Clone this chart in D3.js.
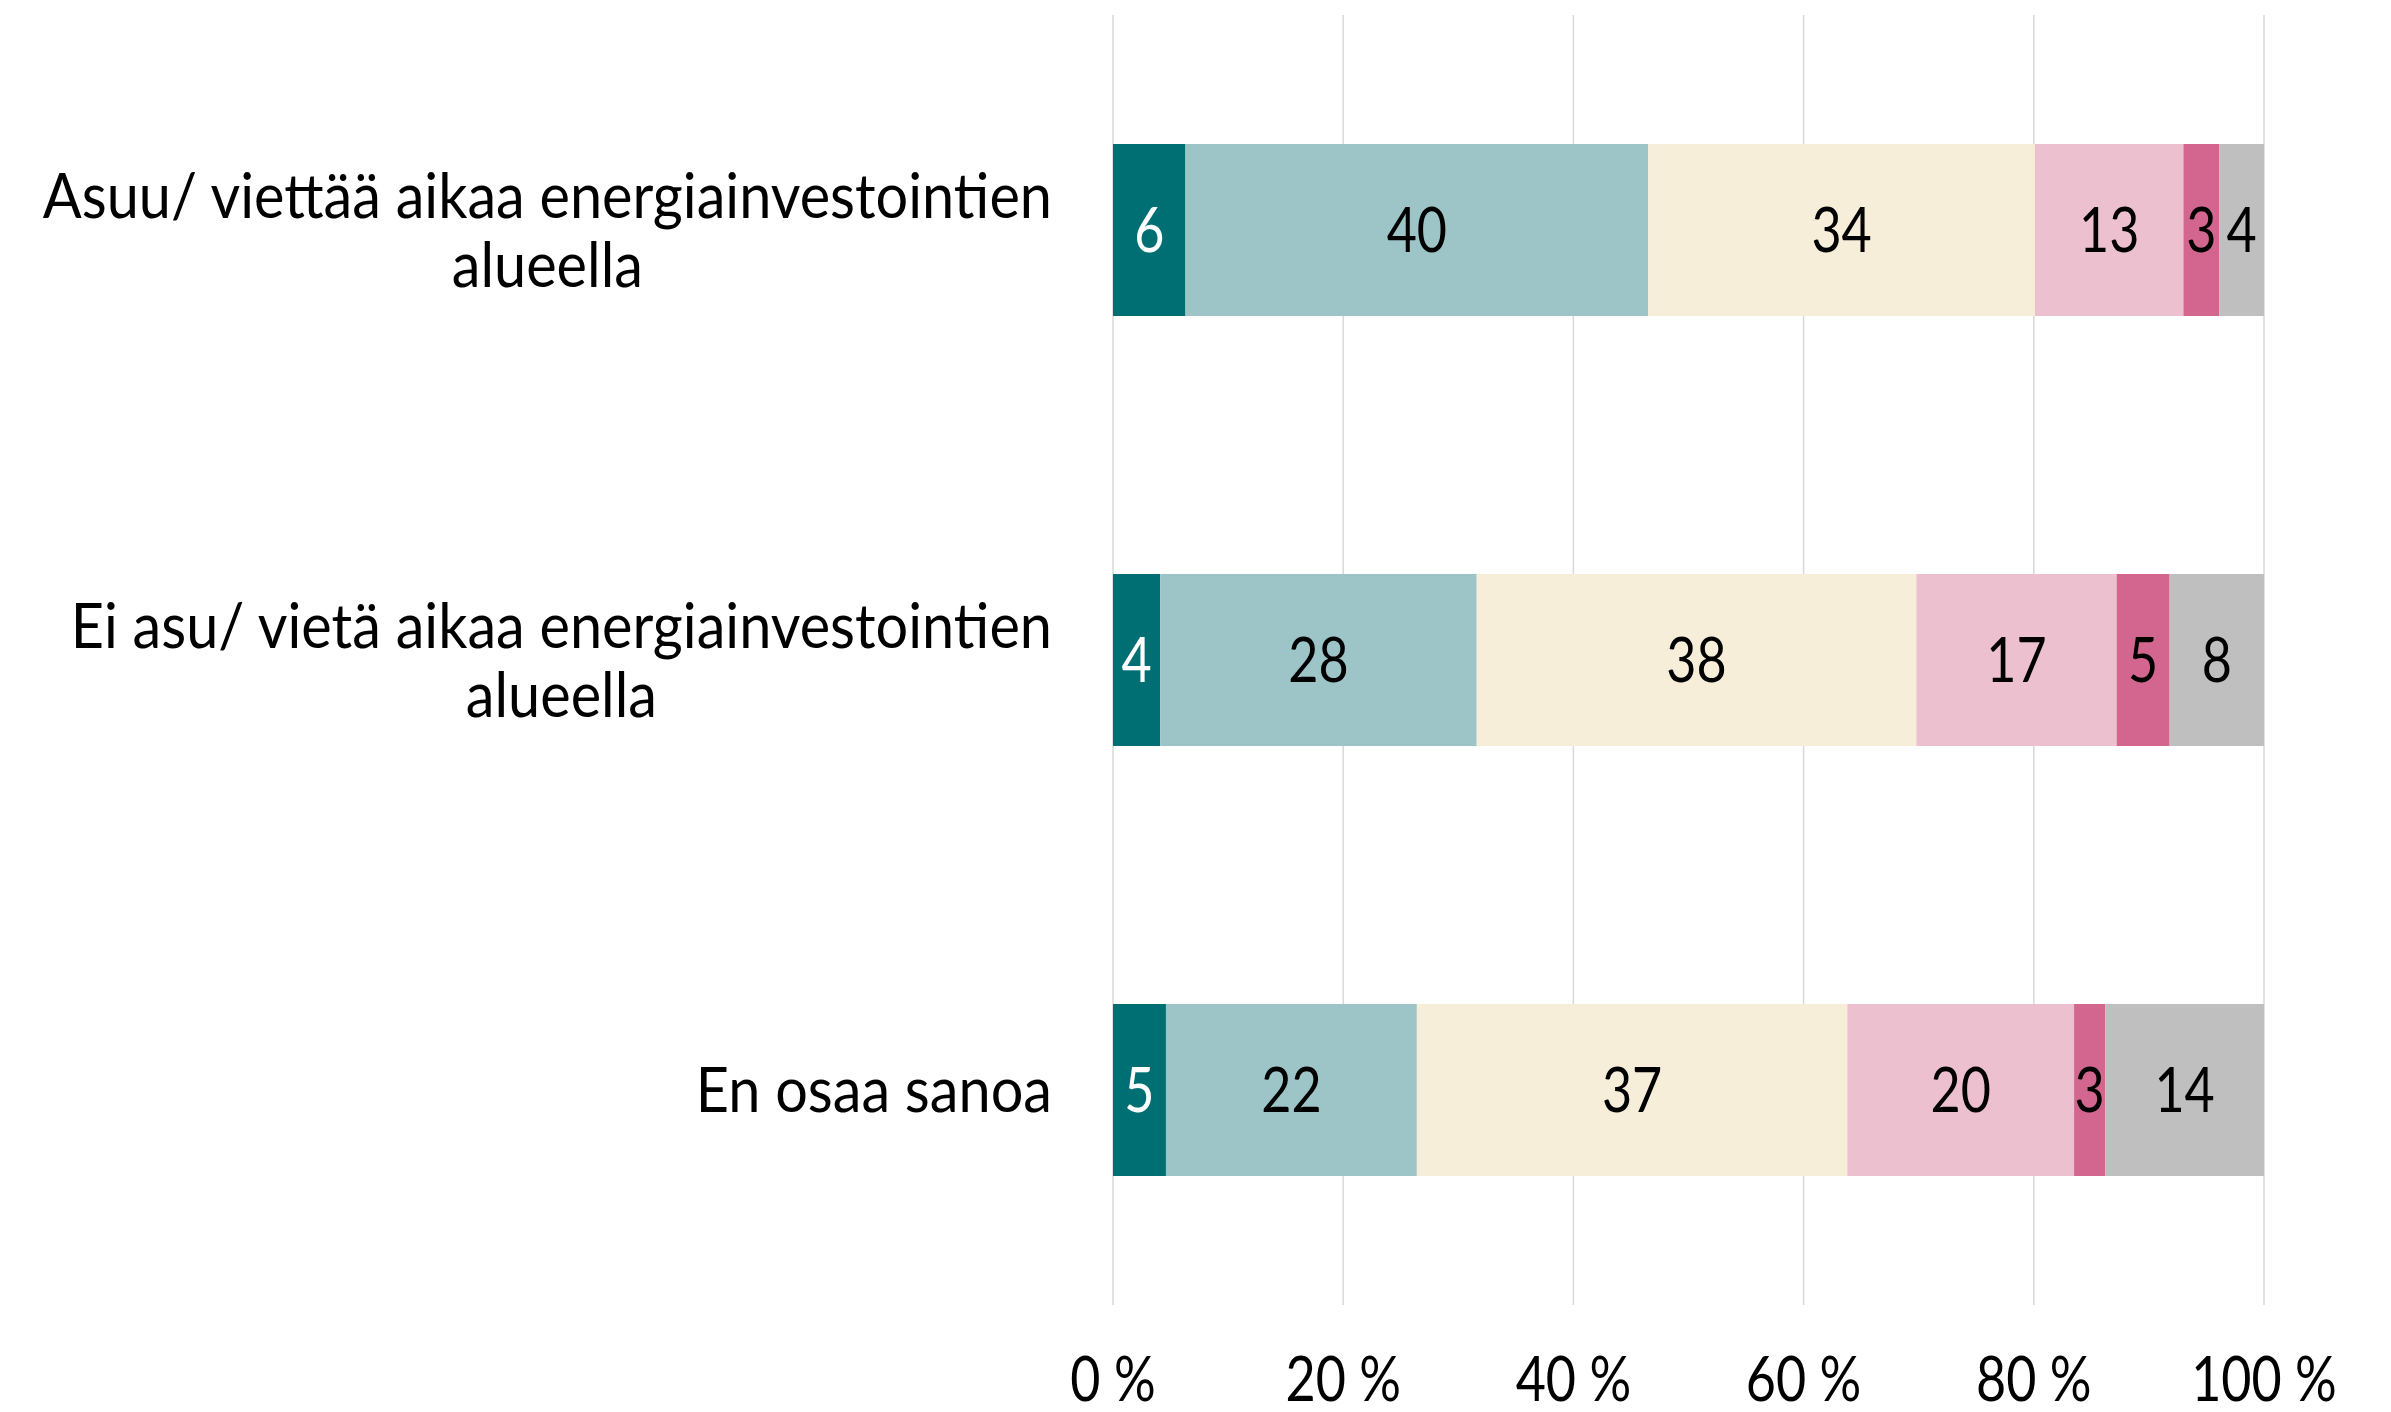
<!DOCTYPE html>
<html>
<head>
<meta charset="utf-8">
<script src="https://cdn.jsdelivr.net/npm/d3@7"></script>
<style>
  html, body { margin: 0; padding: 0; background: #fff; }
  text { font-family: Lato, "Noto Sans", sans-serif; }
</style>
</head>
<body>
<div id="chart"></div>
<script>
// Category labels, already split into lines as in the picture.
const categories = ["c1", "c2", "c3"];
const categoryLines = [
  ["Asuu/ viettää aikaa energiainvestointien", "alueella"],
  ["Ei asu/ vietä aikaa energiainvestointien", "alueella"],
  ["En osaa sanoa"]
];

// Shares (%) for each answer group, one array per series, in category order.
const series1 = [6.3, 4.1, 4.6];
const series2 = [40.2, 27.5, 21.8];
const series3 = [33.6, 38.2, 37.4];
const series4 = [12.9, 17.4, 19.7];
const series5 = [3.1, 4.6, 2.7];
const series6 = [3.9, 8.2, 13.8];
const seriesValues = [series1, series2, series3, series4, series5, series6];

const seriesColors = ["#006f73", "#9dc5c7", "#f6eed8", "#edc0d0", "#d2668f", "#bfbfbf"];
const labelColors = ["#ffffff", "#000", "#000", "#000", "#000", "#000"];

const tickValues = [0, 20, 40, 60, 80, 100];

const width = 2391, height = 1412;
const fontSize = 62;
const squeeze = 0.84;     // numbers: narrow digits of the original face
const catSqueeze = 0.93;  // category text

const svg = d3.select("#chart").append("svg")
  .attr("width", width)
  .attr("height", height);

const x = d3.scaleLinear().domain([0, 100]).range([1113, 2264]);
const y = d3.scaleBand().domain(categories).range([15, 1305])
  .paddingInner(0.6).paddingOuter(0.3);

// Vertical gridlines.
svg.append("g")
  .selectAll("line")
  .data(tickValues)
  .join("line")
  .attr("x1", d => x(d)).attr("x2", d => x(d))
  .attr("y1", 15).attr("y2", 1305)
  .attr("stroke", "#d9d9d9")
  .attr("stroke-width", 1.5);

// Stack the series.
const rows = categories.map((c, i) => {
  const r = { cat: c };
  seriesValues.forEach((s, j) => { r["s" + j] = s[i]; });
  return r;
});
const keys = seriesValues.map((s, j) => "s" + j);
const stacked = d3.stack().keys(keys)(rows);

// Helper for squeezed text.
function squeezedText(sel, tx, ty, str, anchor, fill, sx) {
  return sel.append("text")
    .attr("transform", `translate(${tx},${ty}) scale(${sx},1)`)
    .attr("text-anchor", anchor)
    .attr("fill", fill)
    .style("font-size", fontSize + "px")
    .text(str);
}

const bars = svg.append("g");
stacked.forEach((layer, j) => {
  layer.forEach((d, i) => {
    bars.append("rect")
      .attr("x", x(d[0]))
      .attr("y", y(categories[i]))
      .attr("width", x(d[1]) - x(d[0]))
      .attr("height", y.bandwidth())
      .attr("fill", seriesColors[j]);
  });
});

// Data labels.
const labels = svg.append("g");
stacked.forEach((layer, j) => {
  layer.forEach((d, i) => {
    const cx = (x(d[0]) + x(d[1])) / 2;
    const cy = y(categories[i]) + y.bandwidth() / 2 + fontSize * 0.36;
    squeezedText(labels, cx, cy, Math.round(d[1] - d[0]), "middle", labelColors[j], squeeze);
  });
});

// Category labels: lines centred on each other, block right-aligned.
const catG = svg.append("g");
const rightEdge = 1052;
const lineGap = 69;
categoryLines.forEach((lines, i) => {
  const center = y(categories[i]) + y.bandwidth() / 2 + fontSize * 0.36;
  const texts = lines.map((ln, k) => {
    const ty = center + (k - (lines.length - 1) / 2) * lineGap;
    return squeezedText(catG, 0, ty, ln, "middle", "#000", catSqueeze);
  });
  const maxW = d3.max(texts, t => t.node().getComputedTextLength()) * catSqueeze;
  const cx = rightEdge - maxW / 2;
  texts.forEach((t, k) => {
    const ty = center + (k - (lines.length - 1) / 2) * lineGap;
    t.attr("transform", `translate(${cx},${ty}) scale(${catSqueeze},1)`);
  });
});

// X axis tick labels.
const axisG = svg.append("g");
tickValues.forEach(v => {
  squeezedText(axisG, x(v), 1401, v + " %", "middle", "#000", squeeze);
});
</script>
</body>
</html>
